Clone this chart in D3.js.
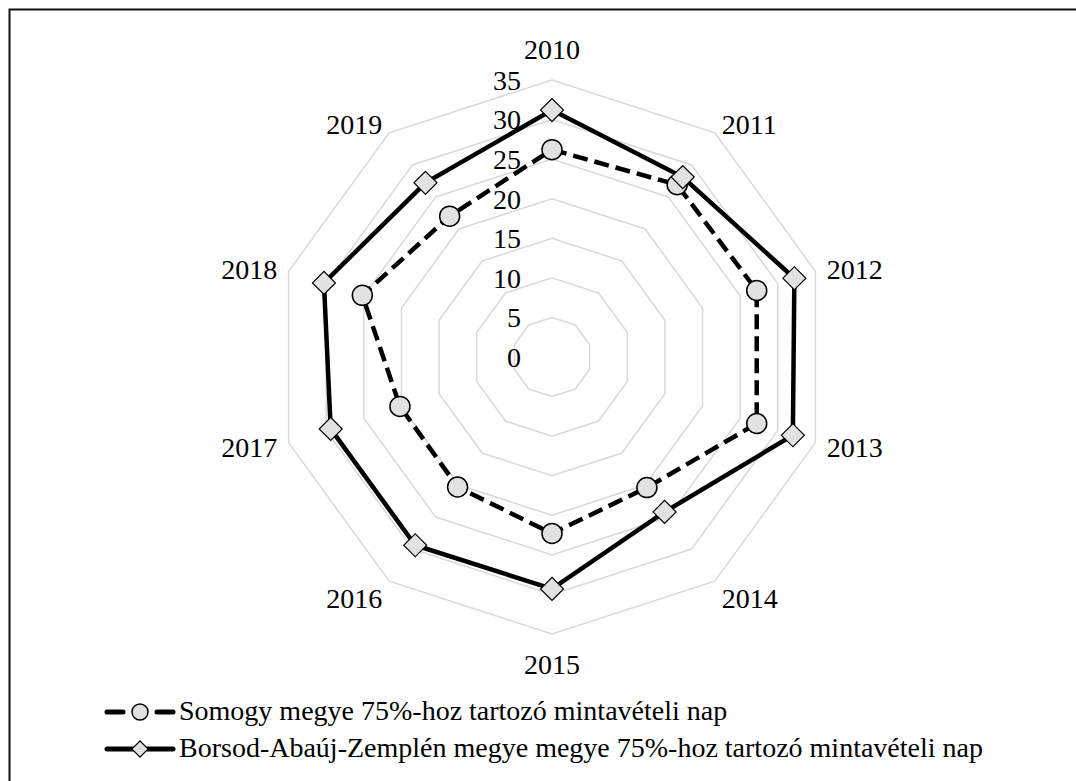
<!DOCTYPE html>
<html lang="hu">
<head>
<meta charset="UTF-8">
<title>Radar</title>
<script src="https://d3js.org/d3.v7.min.js"></script>
<style>
  body { margin: 0; background: #fff; }
</style>
</head>
<body>
<svg id="chart" width="1076" height="781" font-family="'Liberation Serif', 'Times New Roman', serif"></svg>
<script>
// adatok
var categories = ["2010", "2011", "2012", "2013", "2014", "2015", "2016", "2017", "2018", "2019"];
var somogy = [26.2, 26.9, 27.2, 27.2, 20.4, 22.3, 20.3, 20.2, 25.2, 22.0];
var borsod = [31.2, 28.1, 32.2, 32.0, 24.2, 29.3, 29.4, 29.4, 30.3, 27.2];
var ticks = [0, 5, 10, 15, 20, 25, 30, 35];
var seriesNames = [
  "Somogy megye 75%-hoz tartozó mintavételi nap",
  "Borsod-Abaúj-Zemplén megye megye 75%-hoz tartozó mintavételi nap"
];

var cx = 552, cy = 357, R = 277;
var fontSize = "28px";
var svg = d3.select("#chart");

// keret
svg.append("rect")
  .attr("x", 9.5).attr("y", 9.5)
  .attr("width", 1200).attr("height", 1000)
  .attr("fill", "none").attr("stroke", "#111").attr("stroke-width", 2);

var r = d3.scaleLinear().domain([0, 35]).range([0, R]);
var angle = d3.scalePoint().domain(categories).range([0, 2 * Math.PI * (categories.length - 1) / categories.length]);

var g = svg.append("g").attr("transform", "translate(" + cx + "," + cy + ")");

function pt(cat, v) {
  var a = angle(cat);
  return [Math.sin(a) * r(v), -Math.cos(a) * r(v)];
}

// rács
ticks.filter(function (t) { return t > 0; }).forEach(function (t) {
  g.append("path")
    .attr("d", d3.line()(categories.map(function (c) { return pt(c, t); })) + "Z")
    .attr("fill", "none")
    .attr("stroke", "#d9d9d9")
    .attr("stroke-width", 1.5);
});

// tengely feliratok
g.selectAll(".tick-label")
  .data(ticks)
  .enter()
  .append("text")
  .attr("class", "tick-label")
  .attr("x", -31)
  .attr("y", function (d) { return -r(d); })
  .attr("dy", "0.35em")
  .attr("text-anchor", "end")
  .style("font-size", fontSize)
  .text(function (d) { return d; });

// kategória feliratok
g.selectAll(".cat-label")
  .data(categories)
  .enter()
  .append("text")
  .attr("class", "cat-label")
  .each(function (d) {
    var a = angle(d), s = Math.sin(a), c = Math.cos(a);
    var t = d3.select(this);
    if (Math.abs(s) < 0.01) {
      t.attr("x", 0)
        .attr("y", c > 0 ? -(R + 31) : (R + 30))
        .attr("text-anchor", "middle");
    } else {
      t.attr("x", s * (R + 12))
        .attr("y", -c * (R + 12) + (c < -0.5 ? 7 : 1))
        .attr("text-anchor", s > 0 ? "start" : "end");
    }
  })
  .attr("dy", "0.35em")
  .style("font-size", fontSize)
  .text(function (d) { return d; });

var diamond = d3.symbol().type(d3.symbolSquare).size(265);
var diamondSmall = d3.symbol().type(d3.symbolSquare).size(130);

// Somogy sorozat
g.append("path")
  .attr("d", d3.line()(categories.map(function (c, i) { return pt(c, somogy[i]); })) + "Z")
  .attr("fill", "none")
  .attr("stroke", "#000")
  .attr("stroke-width", 4.5)
  .attr("stroke-dasharray", "15,7");

g.selectAll(".m1")
  .data(somogy)
  .enter()
  .append("circle")
  .attr("class", "m1")
  .attr("cx", function (d, i) { return pt(categories[i], d)[0]; })
  .attr("cy", function (d, i) { return pt(categories[i], d)[1]; })
  .attr("r", 10)
  .attr("fill", "#e2e2e2")
  .attr("stroke", "#000")
  .attr("stroke-width", 1.5);

// Borsod sorozat
g.append("path")
  .attr("d", d3.line()(categories.map(function (c, i) { return pt(c, borsod[i]); })) + "Z")
  .attr("fill", "none")
  .attr("stroke", "#000")
  .attr("stroke-width", 4.5)
  .attr("stroke-linejoin", "miter");

g.selectAll(".m2")
  .data(borsod)
  .enter()
  .append("path")
  .attr("class", "m2")
  .attr("d", diamond)
  .attr("transform", function (d, i) {
    var p = pt(categories[i], d);
    return "translate(" + p[0] + "," + p[1] + ") rotate(45)";
  })
  .attr("fill", "#e2e2e2")
  .attr("stroke", "#000")
  .attr("stroke-width", 1.2);

// jelmagyarázat
var legend = svg.append("g");
var ly = [712, 749];

legend.append("line").attr("x1", 107).attr("x2", 123).attr("y1", ly[0]).attr("y2", ly[0])
  .attr("stroke", "#000").attr("stroke-width", 5).attr("stroke-linecap", "round");
legend.append("line").attr("x1", 157).attr("x2", 173).attr("y1", ly[0]).attr("y2", ly[0])
  .attr("stroke", "#000").attr("stroke-width", 5).attr("stroke-linecap", "round");
legend.append("circle").attr("cx", 140).attr("cy", ly[0]).attr("r", 8)
  .attr("fill", "#e2e2e2").attr("stroke", "#000").attr("stroke-width", 1.5);

legend.append("line").attr("x1", 107).attr("x2", 173).attr("y1", ly[1]).attr("y2", ly[1])
  .attr("stroke", "#000").attr("stroke-width", 5).attr("stroke-linecap", "round");
legend.append("path").attr("d", diamondSmall)
  .attr("transform", "translate(140," + ly[1] + ") rotate(45)")
  .attr("fill", "#e2e2e2").attr("stroke", "#000").attr("stroke-width", 1.2);

legend.selectAll(".leg-text")
  .data(seriesNames)
  .enter()
  .append("text")
  .attr("class", "leg-text")
  .attr("x", 179)
  .attr("y", function (d, i) { return ly[i]; })
  .attr("dy", "0.3em")
  .style("font-size", fontSize)
  .text(function (d) { return d; });
</script>
</body>
</html>
